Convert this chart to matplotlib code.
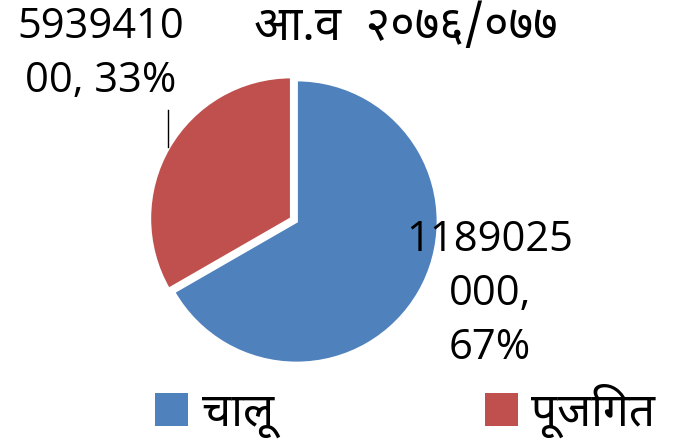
import matplotlib
matplotlib.use("Agg")
import matplotlib.pyplot as plt
from matplotlib import font_manager
from matplotlib.ft2font import FT2Font
from matplotlib.patches import Patch

categories = ["चालू", "पूजिगत"]
values = [1189025000, 593941000]
value_labels = ["1189025\n000,\n67%", "5939410\n00, 33%"]
colors = ["#4F81BD", "#C0504D"]
title = "आ.व  २०७६/०७७"

# pick an installed font that covers Devanagari
names = set()
for f in font_manager.fontManager.ttflist:
    try:
        cmap = FT2Font(f.fname).get_charmap()
        if 0x091A in cmap and 0x0942 in cmap:
            names.add(f.name)
    except Exception:
        pass
deva_family = None
for pref in ["Noto Sans Devanagari", "Noto Sans Devanagari UI", "Mukta", "Hind", "Poppins",
             "Tiro Devanagari Hindi", "Kalam", "Amiko", "Arya"]:
    if pref in names:
        deva_family = pref
        break
if deva_family is None and names:
    deva_family = sorted(names)[0]
num_family = ["Open Sans", "DejaVu Sans"]
deva_fams = ([deva_family] if deva_family else []) + ["Noto Sans", "DejaVu Sans"]

W, H = 687, 440
fig = plt.figure(figsize=(W / 100, H / 100), dpi=100)
ax = fig.add_axes([0, 0, 1, 1])

wedges, _ = ax.pie(values, colors=colors, startangle=90, counterclock=False,
                   center=(296.5, H - 221.5), radius=141.5,
                   explode=[0, 6],
                   wedgeprops=dict(edgecolor="white", linewidth=2))
ax.set_xlim(0, W)
ax.set_ylim(0, H)
ax.set_aspect("equal")
ax.axis("off")

# data labels
ax.text(101, H - 54, value_labels[1],
        ha="center", va="center", fontsize=30, family=num_family, linespacing=1.38)
ax.text(490, H - 294, value_labels[0],
        ha="center", va="center", fontsize=30, family=num_family, linespacing=1.38)
ax.plot([168, 168], [H - 110, H - 147], color="black", lw=1)

ax.text(406, H - 27, title, ha="center", va="center", fontsize=34,
        family=deva_fams, fontweight="bold")

fs = 33
fs_px = fs * 100 / 72
sq = 33 / fs_px
handles = [Patch(facecolor=c, edgecolor="none") for c in colors]
leg = ax.legend(handles, categories, loc="center left",
                bbox_to_anchor=(155 / W, (H - 410.5) / H),
                ncol=2, frameon=False, borderpad=0, borderaxespad=0,
                handlelength=sq, handleheight=sq,
                columnspacing=4.6, handletextpad=0.3,
                prop=dict(family=deva_fams, size=fs))

fig.savefig("out.png", dpi=100)
